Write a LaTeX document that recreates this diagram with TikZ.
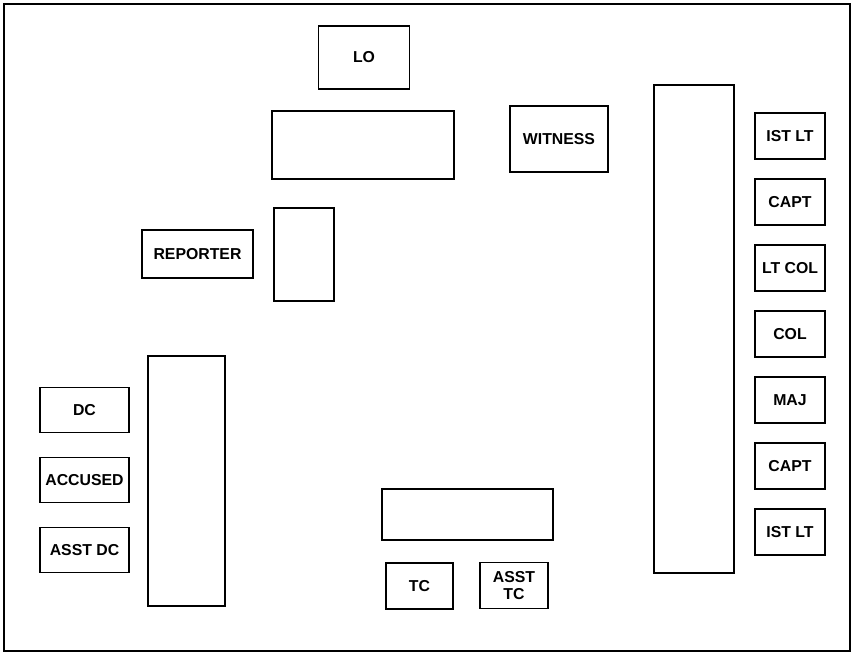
\documentclass[tikz,border=0pt]{standalone}
\usepackage{fontspec}
\setmainfont{Liberation Sans}

\begin{document}
\begin{tikzpicture}[
    seat/.style={rectangle, draw=black, line width=1pt, inner sep=1pt,
                 minimum width=1.4cm, minimum height=0.92cm,
                 font=\fontsize{9}{10}\selectfont\bfseries, align=center},
    desk/.style={rectangle, draw=black, line width=1pt, inner sep=0pt},
    frame/.style={line width=1.6pt}
]

    \useasboundingbox (0,0) rectangle (17.1,13.1);

    % Marco de la sala
    \draw[frame] (0.08,0.08) rectangle (17.0,13.02);

    % Oficial de ley y testigo
    \node[seat, minimum width=1.82cm, minimum height=1.26cm] (lo) at (7.28, 11.95) {LO};
    \node[desk, minimum width=3.64cm, minimum height=1.36cm] (lotable) at (7.26, 10.2) {};
    \node[seat, minimum width=1.96cm, minimum height=1.32cm] (witness) at (11.18, 10.32) {WITNESS};

    % Taquigrafo
    \node[seat, minimum width=2.22cm, minimum height=0.96cm] (reporter) at (3.95, 8.02) {REPORTER};
    \node[desk, minimum width=1.2cm, minimum height=1.86cm] (reptable) at (6.08, 8.01) {};

    % Defensa
    \node[desk, minimum width=1.54cm, minimum height=5.0cm] (dctable) at (3.73, 3.48) {};
    \node[seat, minimum width=1.78cm, minimum height=0.9cm] (dc) at (1.69, 4.9) {DC};
    \node[seat, minimum width=1.78cm, minimum height=0.9cm] (accused) at (1.69, 3.5) {ACCUSED};
    \node[seat, minimum width=1.78cm, minimum height=0.9cm] (asstdc) at (1.69, 2.1) {ASST DC};

    % Fiscal
    \node[desk, minimum width=3.42cm, minimum height=1.02cm] (tctable) at (9.35, 2.81) {};
    \node[seat, minimum width=1.34cm] (tc) at (8.39, 1.38) {TC};
    \node[seat, minimum width=1.36cm] (assttc) at (10.28, 1.39) {ASST\\TC};

    % Tribunal
    \node[desk, minimum width=1.6cm, minimum height=9.76cm] (court) at (13.88, 6.52) {};
    \foreach \lab [count=\i] in {IST LT, CAPT, LT COL, COL, MAJ, CAPT, IST LT} {
        \node[seat] (M\i) at (15.8, 11.7-1.32*\i) {\lab};
    }

\end{tikzpicture}
\end{document}
